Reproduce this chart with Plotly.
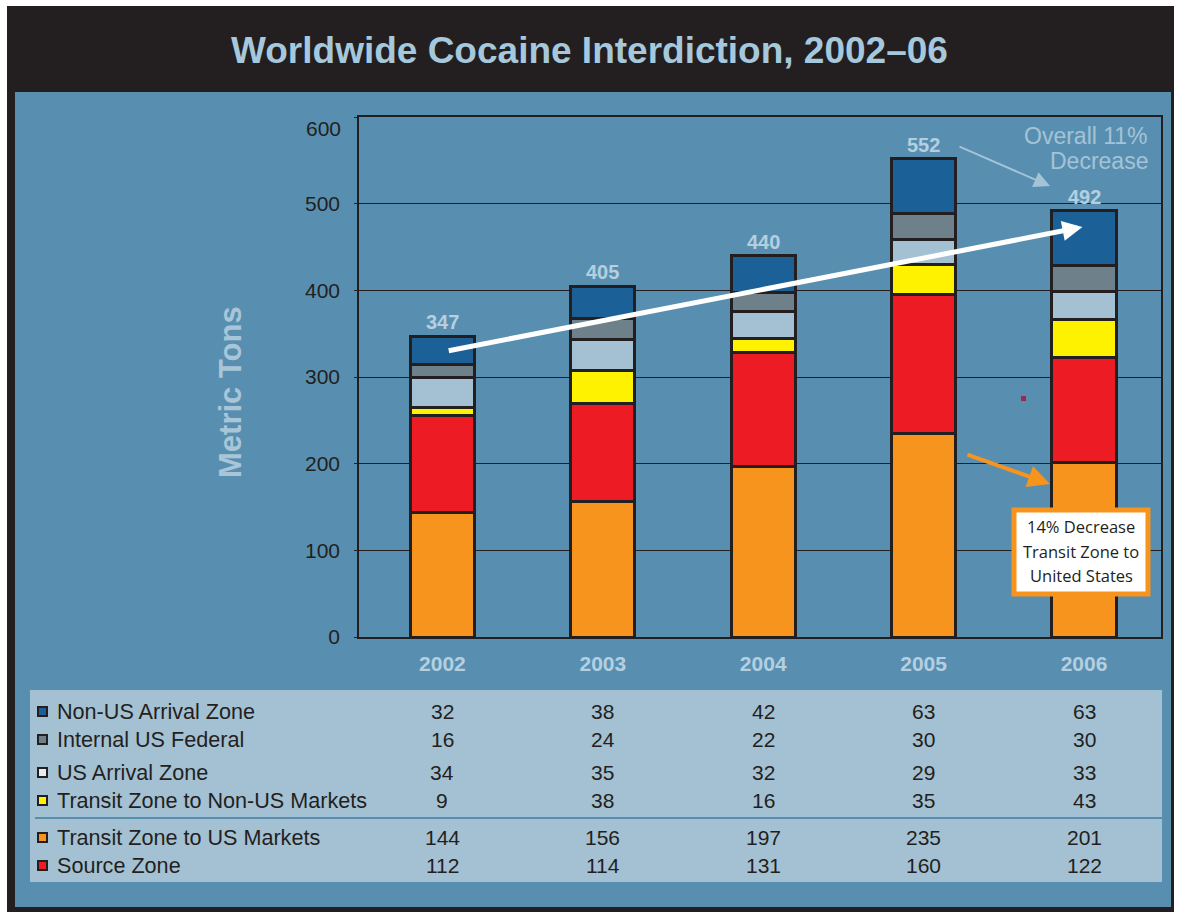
import plotly.graph_objects as go

years = ["2002", "2003", "2004", "2005", "2006"]
# stacking order bottom -> top
transit_us = [144, 156, 197, 235, 201]
source_zone = [112, 114, 131, 160, 122]
transit_non_us = [9, 38, 16, 35, 43]
us_arrival = [34, 35, 32, 29, 33]
internal_us = [16, 24, 22, 30, 30]
non_us_arrival = [32, 38, 42, 63, 63]
totals = [347, 405, 440, 552, 492]
y_ticks = [0, 100, 200, 300, 400, 500, 600]
xpos = list(range(len(years)))

series = [
    ("Transit Zone to US Markets", transit_us, "#f7941d"),
    ("Source Zone", source_zone, "#ed1c24"),
    ("Transit Zone to Non-US Markets", transit_non_us, "#fff200"),
    ("US Arrival Zone", us_arrival, "#a3c1d3"),
    ("Internal US Federal", internal_us, "#6e808a"),
    ("Non-US Arrival Zone", non_us_arrival, "#1b6096"),
]
table_rows = [
    ("Non-US Arrival Zone", non_us_arrival, "#1b6096"),
    ("Internal US Federal", internal_us, "#6e808a"),
    ("US Arrival Zone", us_arrival, "#e4ecf1"),
    ("Transit Zone to Non-US Markets", transit_non_us, "#fff200"),
    ("Transit Zone to US Markets", transit_us, "#f7941d"),
    ("Source Zone", source_zone, "#ed1c24"),
]
row_y = [711, 739, 772, 800, 837, 865]

W, H = 1178, 912
L, R, T, B = 359, 1161, 117, 637
def px(x):
    return (x - L) / (R - L)
def py(y):
    return (B - y) / (B - T)

DARK = "#231f20"
BLUE = "#588fb1"
LIGHT = "#a3c1d3"
PALE = "#b4cfe0"
FONT = "Liberation Sans, Arial, Helvetica"

fig = go.Figure()
for name, vals, col in series:
    fig.add_trace(go.Bar(
        x=xpos, y=vals, name=name, width=0.4,
        marker=dict(color=col, line=dict(color=DARK, width=3)),
        showlegend=False, hoverinfo="y+name"))

shapes = []
shapes.append(dict(type="rect", xref="paper", yref="paper", layer="below",
                   x0=px(7), x1=px(1174), y0=py(912), y1=py(6),
                   fillcolor=DARK, line=dict(width=0)))
shapes.append(dict(type="rect", xref="paper", yref="paper", layer="below",
                   x0=px(15), x1=px(1171), y0=py(907), y1=py(92),
                   fillcolor=BLUE, line=dict(width=0)))
shapes.append(dict(type="rect", xref="paper", yref="paper", layer="below",
                   x0=px(30), x1=px(1162), y0=py(882), y1=py(690),
                   fillcolor=LIGHT, line=dict(width=0)))
shapes.append(dict(type="line", xref="paper", yref="paper", layer="above",
                   x0=px(35), x1=px(1162), y0=py(818), y1=py(818),
                   line=dict(color=BLUE, width=2)))
for (name, vals, col), yy in zip(table_rows, row_y):
    shapes.append(dict(type="rect", xref="paper", yref="paper", layer="above",
                       x0=px(38), x1=px(47), y0=py(yy + 5), y1=py(yy - 4),
                       fillcolor=col, line=dict(color=DARK, width=2)))
shapes.append(dict(type="rect", xref="paper", yref="paper", layer="above",
                   x0=px(1014), x1=px(1148), y0=py(594), y1=py(510),
                   fillcolor="white", line=dict(color="#f7941d", width=5)))
shapes.append(dict(type="rect", xref="paper", yref="paper", layer="above",
                   x0=px(1021), x1=px(1026), y0=py(401), y1=py(396),
                   fillcolor="#9b2a4a", line=dict(width=0)))

ann = []
ann.append(dict(text="<b>Worldwide Cocaine Interdiction, 2002–06</b>",
                xref="paper", yref="paper", x=px(589), y=py(50),
                xanchor="center", yanchor="middle", showarrow=False,
                font=dict(family=FONT, size=37, color="#a6c8dc")))
ann.append(dict(text="<b>Metric Tons</b>", xref="paper", yref="paper",
                x=px(230), y=py(392), textangle=-90, showarrow=False,
                xanchor="center", yanchor="middle",
                font=dict(family=FONT, size=31, color="#a9c6d8")))
# top tick label sits a little below the top border in the reference
ann.append(dict(text=str(y_ticks[-1]), xref="paper", yref="paper",
                x=px(343), y=py(128), xanchor="right", yanchor="middle",
                showarrow=False, font=dict(family=FONT, size=21, color=DARK)))
for xi, tot in zip(xpos, totals):
    ann.append(dict(text=f"<b>{tot}</b>", x=xi, y=tot, xref="x", yref="y",
                    yshift=14, showarrow=False, yanchor="middle",
                    font=dict(family=FONT, size=20, color=PALE)))
for (name, vals, col), yy in zip(table_rows, row_y):
    ann.append(dict(text=name, xref="paper", yref="paper", x=px(55), y=py(yy),
                    xanchor="left", yanchor="middle", showarrow=False,
                    font=dict(family=FONT, size=21.6, color=DARK)))
    for xi, v in zip(xpos, vals):
        ann.append(dict(text=str(v), xref="x", yref="paper", x=xi, y=py(yy),
                        xanchor="center", yanchor="middle", showarrow=False,
                        font=dict(family=FONT, size=21, color=DARK)))
# white trend arrow 2002 -> 2006
ann.append(dict(x=3.99, y=473, xref="x", yref="y", ax=0.03, ay=330, axref="x", ayref="y",
                text="", showarrow=True, arrowhead=2, arrowsize=0.8, arrowwidth=5,
                arrowcolor="white"))
for t, yy in zip(["Overall 11%", "Decrease"], [136, 161]):
    ann.append(dict(text=t, xref="paper", yref="paper",
                    x=px(1150), y=py(yy), xanchor="right", yanchor="middle",
                    showarrow=False, font=dict(family=FONT, size=23, color="#a4c3d6")))
ann.append(dict(x=px(1050), y=py(186), xref="paper", yref="paper",
                ax=-92, ay=-40, text="", showarrow=True, arrowhead=2,
                arrowsize=1.6, arrowwidth=2, arrowcolor="#a4c3d6"))
ann.append(dict(x=px(1050), y=py(484), xref="paper", yref="paper",
                ax=-84, ay=-30, text="", showarrow=True, arrowhead=2,
                arrowsize=1.1, arrowwidth=4, arrowcolor="#f7941d"))
for t, yy in zip(["14% Decrease", "Transit Zone to", "United States"], [526, 551, 575]):
    ann.append(dict(text=t, xref="paper", yref="paper", x=px(1081), y=py(yy),
                    xanchor="center", yanchor="middle", showarrow=False,
                    font=dict(family="Open Sans, Noto Sans, Arial", size=16.5, color=DARK)))

fig.update_layout(
    barmode="stack", width=W, height=H,
    margin=dict(l=L, r=W - R, t=T, b=H - B),
    paper_bgcolor="white", plot_bgcolor=BLUE,
    shapes=shapes, annotations=ann,
    xaxis=dict(range=[-0.52, 4.48], autorange=False, tickvals=xpos,
               ticktext=[f"<b>{y}</b>" for y in years],
               showline=True, linecolor=DARK, linewidth=1.5,
               mirror=True, showgrid=False, zeroline=False, ticks="",
               tickfont=dict(family=FONT, size=21, color=PALE),
               ticklabelstandoff=7),
    yaxis=dict(range=[0, 600], autorange=False, tickvals=y_ticks,
               ticktext=[str(v) for v in y_ticks[:-1]] + [""],
               showline=True,
               linecolor=DARK, linewidth=1.5, mirror=True, showgrid=True,
               gridcolor=DARK, gridwidth=1,
               ticks="outside", ticklen=3, tickcolor=DARK, zeroline=False,
               tickfont=dict(family=FONT, size=21, color=DARK),
               ticklabelstandoff=10),
)
fig.write_html("out.html")
